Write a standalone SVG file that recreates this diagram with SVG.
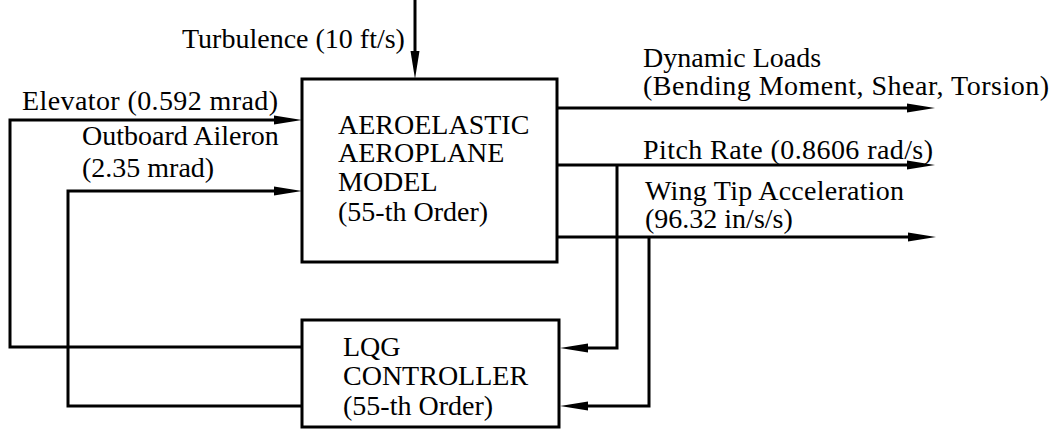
<svg xmlns="http://www.w3.org/2000/svg" width="1056" height="430" viewBox="0 0 1056 430">
<defs>
<style>
text{font-family:"Liberation Serif","Times New Roman",serif;font-size:28px;fill:#000}
.box{fill:#fff;stroke:#000;stroke-width:3}
.wire{fill:none;stroke:#000;stroke-width:3;stroke-linejoin:miter}
.arr{marker-end:url(#ah)}
</style>
<marker id="ah" markerUnits="userSpaceOnUse" markerWidth="30" markerHeight="12" refX="16" refY="6" orient="auto">
<path d="M0,1.5 L28,6 L0,10.5 z" fill="#000"/>
</marker>
</defs>
<rect width="1056" height="430" fill="#fff"/>
<g id="connectors">
<path class="wire arr" d="M415,0 V67"/>
<path class="wire arr" d="M302,347 H10 V120 H290"/>
<path class="wire arr" d="M302,406 H68 V191 H290"/>
<path class="wire arr" d="M557,108 H923"/>
<path class="wire arr" d="M557,165 H923"/>
<path class="wire arr" d="M557,237 H924"/>
<path class="wire arr" d="M617,165 V348 H572"/>
<path class="wire arr" d="M649,237 V406 H572"/>
</g>
<g id="labels">
<text x="182" y="48">Turbulence (10 ft/s)</text>
<text x="22" y="110" textLength="256" lengthAdjust="spacing">Elevator (0.592 mrad)</text>
<text x="82" y="145">Outboard Aileron</text>
<text x="82" y="177">(2.35 mrad)</text>
<text x="643" y="67">Dynamic Loads</text>
<text x="643" y="95" textLength="406" lengthAdjust="spacing">(Bending Moment, Shear, Torsion)</text>
<text x="643" y="159" textLength="290" lengthAdjust="spacing">Pitch Rate (0.8606 rad/s)</text>
<text x="645" y="200" textLength="259" lengthAdjust="spacing">Wing Tip Acceleration</text>
<text x="645" y="228">(96.32 in/s/s)</text>
</g>
<g id="aeroplane-model">
<rect class="box" x="302" y="79" width="255" height="183"/>
<text x="338" y="134">AEROELASTIC</text>
<text x="338" y="162">AEROPLANE</text>
<text x="338" y="191">MODEL</text>
<text x="338" y="221">(55-th Order)</text>
</g>
<g id="lqg-controller">
<rect class="box" x="302" y="320" width="257" height="107"/>
<text x="343" y="356">LQG</text>
<text x="343" y="385">CONTROLLER</text>
<text x="343" y="415">(55-th Order)</text>
</g>
</svg>
